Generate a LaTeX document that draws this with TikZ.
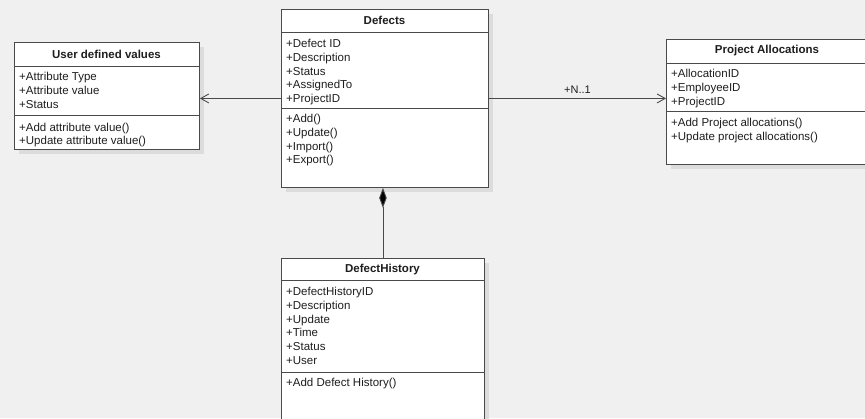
\documentclass[tikz,border=0pt]{standalone}
\usepackage{fontspec}
\setmainfont{Liberation Sans}
\usetikzlibrary{arrows.meta,positioning,shadows}
\definecolor{canvas}{HTML}{F0F0F0}
\definecolor{shade}{HTML}{DCDCDC}
\definecolor{edge}{HTML}{4A4A4A}
\definecolor{ink}{HTML}{1E1E1E}
\tikzset{
  every node/.style={font=\fontsize{11.5}{13.8}\selectfont, text=ink},
  cls/.style ={draw=edge, fill=white, line width=0.9pt, anchor=north west, inner sep=0pt,
               drop shadow={shadow xshift=4.5pt, shadow yshift=-4.5pt, fill=shade, opacity=1}},
  sep/.style ={draw=edge, line width=0.9pt},
  ttl/.style ={font=\bfseries\fontsize{11.5}{13.8}\selectfont, inner sep=0pt},
  mem/.style ={anchor=north west, align=left, inner sep=0pt},
  assoc/.style={-{Straight Barb[length=8pt, width=9pt, line width=0.9pt]}, line width=0.9pt, draw=edge},
  comp/.style ={{Diamond[length=20pt, width=7.5pt, fill=black]}-, line width=0.9pt, draw=edge},
  mult/.style ={font=\fontsize{11}{13}\selectfont, inner sep=1pt},
}
\begin{document}
\begin{tikzpicture}[x=1pt, y=-1pt]
\fill[canvas] (0,0) rectangle (865,418);
\clip (0,0) rectangle (865,418);

% classes
\node[cls, minimum width=207pt, minimum height=178pt] (def) at (281,9) {};
\node[ttl] (defT) at (384.5,20.5) {Defects};
\draw[sep] (def.west |- 0,32) -- (def.east |- 0,32);
\draw[sep] (def.west |- 0,108) -- (def.east |- 0,108);
\node[mem] (defA) at (286,39) {+Defect ID\\+Description\\+Status\\+AssignedTo\\+ProjectID};
\node[mem] (defM) at (286,114) {+Add()\\+Update()\\+Import()\\+Export()};

\node[cls, minimum width=185pt, minimum height=107pt] (udv) at (14,42) {};
\node[ttl] (udvT) at (106.5,54.5) {User defined values};
\draw[sep] (udv.west |- 0,66) -- (udv.east |- 0,66);
\draw[sep] (udv.west |- 0,115) -- (udv.east |- 0,115);
\node[mem] (udvA) at (19,72) {+Attribute Type\\+Attribute value\\+Status};
\node[mem] (udvM) at (19,122.5) {+Add attribute value()\\+Update attribute value()};

\node[cls, minimum width=202pt, minimum height=125pt] (pa) at (666,39) {};
\node[ttl] (paT) at (767,51) {Project Allocations};
\draw[sep] (pa.west |- 0,63) -- (pa.east |- 0,63);
\draw[sep] (pa.west |- 0,111) -- (pa.east |- 0,111);
\node[mem] (paA) at (671,69) {+AllocationID\\+EmployeeID\\+ProjectID};
\node[mem] (paM) at (671,118) {+Add Project allocations()\\+Update project allocations()};

\node[cls, minimum width=203pt, minimum height=172pt] (dh) at (281,258) {};
\node[ttl] (dhT) at (382.5,269.5) {DefectHistory};
\draw[sep] (dh.west |- 0,280) -- (dh.east |- 0,280);
\draw[sep] (dh.west |- 0,372) -- (dh.east |- 0,372);
\node[mem] (dhA) at (286,287) {+DefectHistoryID\\+Description\\+Update\\+Time\\+Status\\+User};
\node[mem] (dhM) at (286,378) {+Add Defect History()};

% relations
\draw[assoc] (def.west) -- (udv.east |- def.west);
\draw[assoc] (def.east) -- (pa.west |- def.east)
  node[mult, midway, above=4pt] (n1) {+N..1};
\draw[comp] (dh.north |- def.south) -- (dh.north);

\end{tikzpicture}
\end{document}
